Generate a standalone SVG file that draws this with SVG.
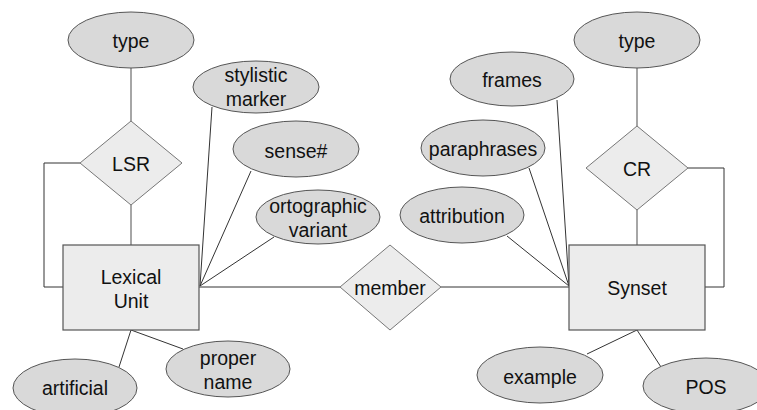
<svg xmlns="http://www.w3.org/2000/svg" width="757" height="410" viewBox="0 0 757 410">
<style>
.attr{fill:#d9d9d9;stroke:#555;stroke-width:1}
.ent{fill:#ececec;stroke:#555;stroke-width:1.2}
.rel{fill:#ececec;stroke:#777;stroke-width:1}
.ln{fill:none;stroke:#333;stroke-width:1}
.lg{fill:none;stroke:#888;stroke-width:1.5}
text{font-family:"Liberation Sans",Arial,sans-serif;font-size:19.5px;fill:#111;text-anchor:middle;dominant-baseline:central}
</style>
<rect width="757" height="410" fill="#fff"/>
<g id="connectors">
<line class="lg" x1="131" y1="68" x2="131" y2="121"/>
<line class="lg" x1="131" y1="205" x2="131" y2="245"/>
<polyline class="ln" points="80,163 44,163 44,287 63,287"/>
<line class="ln" x1="212" y1="107" x2="200" y2="286"/>
<line class="ln" x1="251" y1="171" x2="200" y2="286"/>
<line class="ln" x1="274" y1="237" x2="200" y2="286"/>
<line class="ln" x1="199" y1="287" x2="340" y2="287"/>
<line class="ln" x1="441" y1="287" x2="569" y2="287"/>
<line class="ln" x1="131" y1="330" x2="119" y2="367"/>
<line class="ln" x1="131" y1="330" x2="183" y2="349"/>
<line class="lg" x1="637" y1="68" x2="637" y2="126"/>
<line class="lg" x1="637" y1="210" x2="637" y2="245"/>
<polyline class="ln" points="688,168 724,168 724,287 705,287"/>
<line class="ln" x1="557" y1="100" x2="569" y2="286"/>
<line class="ln" x1="529" y1="168" x2="569" y2="286"/>
<line class="ln" x1="507" y1="236" x2="569" y2="286"/>
<line class="ln" x1="637" y1="330" x2="587" y2="354"/>
<line class="ln" x1="637" y1="330" x2="661" y2="367"/>
</g>
<g id="type-left"><ellipse class="attr" cx="131" cy="40" rx="63" ry="28"/><text x="131" y="41">type</text></g>
<g id="LSR"><polygon class="rel" points="131,121 182,163 131,205 80,163"/><text x="131" y="164">LSR</text></g>
<g id="lexical-unit"><rect class="ent" x="63" y="245" width="136" height="85"/><text x="131" y="277">Lexical</text><text x="131" y="301">Unit</text></g>
<g id="stylistic-marker"><ellipse class="attr" cx="256" cy="87" rx="63" ry="26"/><text x="256" y="75">stylistic</text><text x="256" y="99">marker</text></g>
<g id="sense"><ellipse class="attr" cx="296" cy="149" rx="63" ry="28"/><text x="296" y="151">sense#</text></g>
<g id="ortographic-variant"><ellipse class="attr" cx="318" cy="217" rx="62" ry="27"/><text x="318" y="206">ortographic</text><text x="318" y="230">variant</text></g>
<g id="member"><polygon class="rel" points="390,245 441,287 390,330 340,287"/><text x="390" y="288">member</text></g>
<g id="artificial"><ellipse class="attr" cx="75" cy="388" rx="62" ry="29"/><text x="75" y="388">artificial</text></g>
<g id="proper-name"><ellipse class="attr" cx="228" cy="369" rx="62" ry="28"/><text x="228" y="358">proper</text><text x="228" y="382">name</text></g>
<g id="type-right"><ellipse class="attr" cx="637" cy="40" rx="63" ry="28"/><text x="637" y="41">type</text></g>
<g id="CR"><polygon class="rel" points="637,126 688,168 637,210 586,168"/><text x="637" y="169">CR</text></g>
<g id="synset"><rect class="ent" x="569" y="245" width="136" height="85"/><text x="637" y="288">Synset</text></g>
<g id="frames"><ellipse class="attr" cx="512" cy="79" rx="62" ry="27"/><text x="512" y="80">frames</text></g>
<g id="paraphrases"><ellipse class="attr" cx="483" cy="148" rx="62" ry="28"/><text x="483" y="149">paraphrases</text></g>
<g id="attribution"><ellipse class="attr" cx="462" cy="215" rx="62" ry="28"/><text x="462" y="216">attribution</text></g>
<g id="example"><ellipse class="attr" cx="540" cy="375" rx="63" ry="28"/><text x="540" y="377">example</text></g>
<g id="POS"><ellipse class="attr" cx="706" cy="386" rx="63" ry="28"/><text x="706" y="387">POS</text></g>
</svg>
